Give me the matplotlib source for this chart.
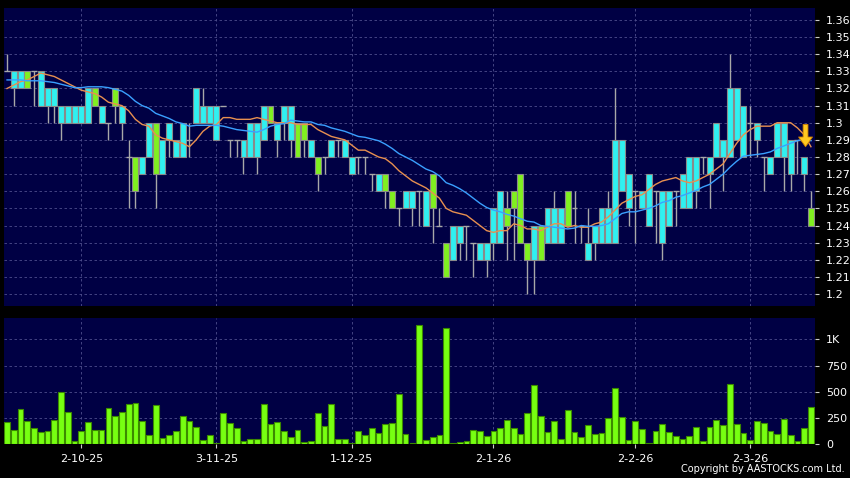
import matplotlib
matplotlib.use('Agg')
import matplotlib.pyplot as plt
import numpy as np
import pandas as pd

# daily candles, index 0 = first visible session
opens = [1.33, 1.32, 1.32, 1.33, 1.33, 1.31, 1.31, 1.31, 1.30, 1.30,
         1.30, 1.30, 1.30, 1.32, 1.30, 1.30, 1.32, 1.30, 1.28, 1.28,
         1.27, 1.28, 1.30, 1.27, 1.29, 1.28, 1.28, 1.29, 1.30, 1.30,
         1.30, 1.29, 1.31, 1.29, 1.29, 1.28, 1.28, 1.28, 1.29, 1.31,
         1.29, 1.30, 1.29, 1.30, 1.30, 1.28, 1.28, 1.28, 1.28, 1.29,
         1.28, 1.27, 1.28, 1.28, 1.27, 1.26, 1.27, 1.26, 1.25, 1.25,
         1.25, 1.26, 1.24, 1.27, 1.24, 1.23, 1.22, 1.23, 1.24, 1.23,
         1.22, 1.22, 1.23, 1.23, 1.25, 1.26, 1.27, 1.23, 1.22, 1.24,
         1.23, 1.23, 1.23, 1.26, 1.25, 1.24, 1.22, 1.23, 1.23, 1.23,
         1.23, 1.26, 1.25, 1.26, 1.25, 1.24, 1.26, 1.23, 1.24, 1.26,
         1.25, 1.25, 1.26, 1.28, 1.27, 1.28, 1.28, 1.28, 1.29, 1.28,
         1.30, 1.29, 1.28, 1.27, 1.28, 1.28, 1.27, 1.29, 1.27, 1.25]
highs = [1.34, 1.33, 1.33, 1.33, 1.33, 1.33, 1.32, 1.32, 1.31, 1.31,
         1.31, 1.31, 1.32, 1.32, 1.31, 1.30, 1.32, 1.31, 1.29, 1.28,
         1.28, 1.30, 1.30, 1.29, 1.30, 1.29, 1.30, 1.30, 1.32, 1.32,
         1.31, 1.31, 1.31, 1.29, 1.29, 1.29, 1.30, 1.30, 1.31, 1.31,
         1.30, 1.31, 1.31, 1.30, 1.30, 1.29, 1.28, 1.28, 1.29, 1.29,
         1.29, 1.28, 1.28, 1.28, 1.27, 1.27, 1.27, 1.26, 1.25, 1.26,
         1.26, 1.26, 1.26, 1.27, 1.25, 1.23, 1.24, 1.24, 1.24, 1.23,
         1.23, 1.23, 1.25, 1.26, 1.26, 1.26, 1.27, 1.23, 1.24, 1.24,
         1.25, 1.26, 1.25, 1.26, 1.26, 1.24, 1.25, 1.24, 1.25, 1.26,
         1.32, 1.29, 1.27, 1.26, 1.26, 1.27, 1.26, 1.26, 1.26, 1.26,
         1.27, 1.28, 1.28, 1.28, 1.28, 1.30, 1.29, 1.34, 1.32, 1.31,
         1.31, 1.30, 1.28, 1.28, 1.30, 1.30, 1.29, 1.29, 1.28, 1.26]
lows = [1.33, 1.31, 1.32, 1.32, 1.31, 1.31, 1.30, 1.30, 1.29, 1.30,
        1.30, 1.30, 1.30, 1.31, 1.30, 1.29, 1.30, 1.29, 1.25, 1.25,
        1.27, 1.28, 1.25, 1.27, 1.28, 1.28, 1.28, 1.28, 1.30, 1.30,
        1.30, 1.29, 1.31, 1.28, 1.28, 1.27, 1.28, 1.27, 1.29, 1.30,
        1.28, 1.29, 1.28, 1.28, 1.28, 1.28, 1.26, 1.27, 1.28, 1.28,
        1.28, 1.27, 1.27, 1.27, 1.26, 1.26, 1.25, 1.25, 1.24, 1.25,
        1.24, 1.24, 1.24, 1.23, 1.24, 1.21, 1.22, 1.22, 1.22, 1.21,
        1.22, 1.21, 1.22, 1.23, 1.22, 1.22, 1.23, 1.20, 1.20, 1.22,
        1.23, 1.23, 1.23, 1.24, 1.23, 1.23, 1.22, 1.22, 1.23, 1.23,
        1.23, 1.26, 1.24, 1.23, 1.25, 1.24, 1.23, 1.22, 1.24, 1.24,
        1.25, 1.25, 1.25, 1.27, 1.25, 1.28, 1.26, 1.28, 1.29, 1.28,
        1.28, 1.28, 1.26, 1.27, 1.28, 1.26, 1.26, 1.27, 1.26, 1.24]
closes = [1.33, 1.33, 1.33, 1.32, 1.33, 1.33, 1.32, 1.32, 1.31, 1.31,
          1.31, 1.31, 1.32, 1.31, 1.31, 1.30, 1.31, 1.31, 1.28, 1.26,
          1.28, 1.30, 1.27, 1.29, 1.30, 1.29, 1.30, 1.29, 1.32, 1.31,
          1.31, 1.31, 1.31, 1.29, 1.29, 1.29, 1.30, 1.30, 1.31, 1.30,
          1.30, 1.31, 1.31, 1.28, 1.29, 1.29, 1.27, 1.28, 1.29, 1.29,
          1.29, 1.28, 1.28, 1.28, 1.27, 1.27, 1.26, 1.25, 1.25, 1.26,
          1.26, 1.26, 1.26, 1.25, 1.24, 1.21, 1.24, 1.24, 1.24, 1.23,
          1.23, 1.23, 1.25, 1.26, 1.24, 1.25, 1.23, 1.22, 1.24, 1.22,
          1.25, 1.25, 1.25, 1.24, 1.25, 1.24, 1.23, 1.24, 1.25, 1.25,
          1.29, 1.29, 1.27, 1.26, 1.26, 1.27, 1.26, 1.26, 1.26, 1.26,
          1.27, 1.28, 1.28, 1.28, 1.28, 1.30, 1.29, 1.32, 1.32, 1.31,
          1.30, 1.30, 1.28, 1.28, 1.30, 1.30, 1.29, 1.29, 1.28, 1.24]
# volume in thousands of shares
volumes = [208, 138, 330, 224, 157, 118, 125, 234, 499, 307,
           32, 125, 214, 138, 134, 346, 272, 310, 387, 394,
           221, 90, 374, 61, 86, 128, 266, 221, 166, 42,
           86, 10, 301, 205, 157, 32, 45, 51, 384, 195,
           214, 125, 67, 138, 22, 29, 301, 170, 378, 48,
           51, 10, 128, 83, 157, 102, 189, 202, 474, 99,
           10, 1136, 38, 70, 90, 1114, 10, 16, 26, 138,
           128, 80, 122, 154, 234, 150, 99, 301, 560, 266,
           112, 224, 45, 326, 112, 67, 179, 96, 109, 250,
           534, 259, 38, 218, 147, 10, 125, 192, 115, 74,
           51, 74, 163, 26, 160, 230, 186, 576, 192, 102,
           42, 224, 198, 122, 99, 237, 83, 32, 154, 352]
# closes before the window, only used to seed the moving averages
prior_closes = [1.33, 1.33, 1.33, 1.33, 1.33, 1.33, 1.33, 1.33, 1.33, 1.33,
                1.31, 1.31, 1.31, 1.31, 1.31, 1.33, 1.33, 1.33, 1.33]

tick_pos = [11, 31, 51, 72, 93, 110]
tick_labels = ['2-10-25', '3-11-25', '1-12-25', '2-1-26', '2-2-26', '2-3-26']

BG = '#000044'
GRID = '#4e4e8c'
UP = '#30F0F0'
DOWN = '#80F020'

n = len(closes)
x = np.arange(n)
allc = pd.Series(prior_closes + closes)
ma10 = allc.rolling(10).mean().values[-n:]
ma20 = allc.rolling(20).mean().values[-n:]

fig = plt.figure(figsize=(8.5, 4.78), dpi=100, facecolor='black')
ax = fig.add_axes([4/850, 1-306/478, 811/850, 298/478])
axv = fig.add_axes([4/850, 1-444/478, 811/850, 126/478])

for a in (ax, axv):
    a.set_facecolor(BG)
    for s in a.spines.values():
        s.set_visible(False)
    a.set_xlim(-0.45, n - 0.4)
    a.set_axisbelow(True)
    a.grid(True, color=GRID, linestyle=(0, (3, 3)), linewidth=0.6)
    a.yaxis.tick_right()
    a.tick_params(axis='y', colors='white', labelsize=8, length=3, pad=5,
                  color='#cccccc')
    a.set_xticks(tick_pos)

# candles
o = np.array(opens); c = np.array(closes)
h = np.array(highs); l = np.array(lows)
ax.vlines(x, l, h, color='#a8a8a8', linewidth=1, zorder=2)
body_lo = np.minimum(o, c)
body_h = np.abs(c - o)
cols = [UP if cc > oo else DOWN for oo, cc in zip(o, c)]
solid = body_h > 0
ax.bar(x[solid], body_h[solid], bottom=body_lo[solid], width=0.88,
       color=np.array(cols)[solid], edgecolor='#8a8a8a', linewidth=0.8, zorder=3)
ax.hlines(o[~solid], x[~solid] - 0.44, x[~solid] + 0.44, color='#a8a8a8',
          linewidth=1, zorder=3)

ax.plot(x, ma10, color='#e89050', linewidth=1, zorder=4)
ax.plot(x, ma20, color='#3aa0ff', linewidth=1, zorder=4)

# arrow on the last MA point
ax.annotate('', xy=(n - 1.8, ma10[-1]), xytext=(n - 1.8, ma10[-1] + 0.013),
            arrowprops=dict(facecolor='#ffc820', edgecolor='#d08000',
                            width=3.5, headwidth=10, headlength=7, linewidth=0.6),
            zorder=6)

ax.set_ylim(1.193, 1.367)
yt = np.round(np.arange(1.20, 1.3601, 0.01), 2)
ax.set_yticks(yt)
ax.set_yticklabels([f'{v:g}' for v in yt])
ax.tick_params(axis='x', length=0, labelbottom=False)

# volume
axv.bar(x, volumes, width=0.85, color='#77FF11', edgecolor='#3c8a00',
        linewidth=0.8, zorder=3)
axv.set_ylim(0, 1205)
axv.set_yticks([0, 250, 500, 750, 1000])
axv.set_yticklabels(['0', '250', '500', '750', '1K'])
axv.set_xticklabels(tick_labels)
axv.tick_params(axis='x', colors='white', labelsize=8, length=3, pad=4,
                color='#cccccc')

fig.text(0.994, 0.008, 'Copyright by AASTOCKS.com Ltd.', ha='right', va='bottom',
         color='white', fontsize=7)

fig.savefig('out.png', dpi=100, facecolor='black')
